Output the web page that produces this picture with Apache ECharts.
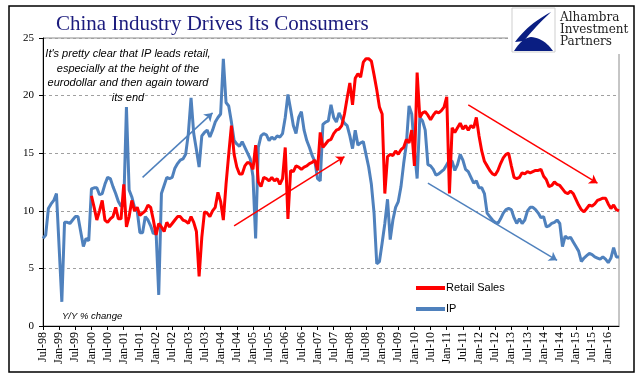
<!DOCTYPE html>
<html><head><meta charset="utf-8">
<script src="https://cdn.jsdelivr.net/npm/echarts@6/dist/echarts.min.js"></script>
<style>html,body{margin:0;padding:0;background:#fff}#c{width:641px;height:388px}</style>
</head><body><div id="c"></div><script>
// ---- data ----
const monthNames = ['Jan','Feb','Mar','Apr','May','Jun','Jul','Aug','Sep','Oct','Nov','Dec'];
const startYear = 1998, startMonthIdx = 6, monthCount = 215; // Jul-98 .. May-16
const categories = [];
for (let i = 0; i < monthCount; i++) {
  const t = startMonthIdx + i;
  categories.push(monthNames[t % 12] + '-' + String((startYear + Math.floor(t / 12)) % 100).padStart(2, '0'));
}
const ipValues = [
  7.6, 7.9, 10.2, 10.6, 10.9, 11.5, 6.8, 2.1, 9.0, 9.0,
  8.9, 9.2, 9.5, 9.5, 8.2, 6.9, 7.6, 7.4, 11.9, 12.0,
  12.0, 11.4, 11.5, 12.3, 12.9, 12.8, 12.1, 11.5, 10.8, 10.4,
  10.5, 19.0, 11.8, 11.2, 10.3, 10.0, 8.1, 8.1, 9.5, 9.2,
  8.7, 8.0, 8.2, 2.7, 11.5, 12.2, 12.9, 12.8, 12.9, 13.7,
  14.1, 14.4, 14.5, 14.9, 16.7, 19.8, 16.7, 15.3, 13.8, 16.5,
  16.8, 17.0, 16.4, 17.0, 17.7, 18.1, 18.4, 23.2, 19.4, 19.1,
  17.7, 16.1, 15.8, 15.6, 16.0, 15.5, 15.0, 14.5, 13.0, 7.6,
  15.5, 16.5, 16.7, 16.6, 16.1, 16.4, 16.2, 16.5, 16.4, 16.7,
  18.1, 20.1, 18.8, 17.4, 16.7, 18.1, 18.6, 17.0, 16.1, 15.5,
  14.8, 14.3, 12.8, 12.6, 17.5, 17.7, 17.8, 19.2, 18.1, 17.7,
  18.5, 18.0, 17.6, 17.4, 16.5, 15.4, 17.0, 15.7, 15.9, 16.0,
  14.9, 13.8, 12.3, 9.8, 5.4, 5.6, 7.2, 8.9, 11.0, 7.5,
  9.2, 10.3, 10.8, 12.1, 14.1, 15.8, 19.1, 18.4, 15.3, 12.8,
  18.1, 17.8, 17.0, 14.0, 13.9, 13.6, 13.1, 13.2, 13.4, 13.6,
  14.0, 14.4, 14.3, 13.5, 14.0, 14.9, 14.4, 13.6, 13.4, 12.9,
  12.4, 12.6, 12.0, 12.0, 11.5, 9.8, 9.5, 9.2, 9.0, 8.9,
  9.3, 9.8, 10.1, 10.2, 10.1, 9.4, 8.9, 9.3, 8.9, 9.2,
  10.0, 10.3, 10.3, 10.1, 9.8, 9.4, 9.5, 8.6, 8.7, 8.9,
  9.0, 9.2, 8.9, 6.9, 7.8, 7.6, 7.7, 7.3, 6.9, 6.5,
  5.6, 5.9, 6.1, 6.3, 6.2, 6.0, 5.9, 5.8, 6.0, 5.8,
  5.5, 5.9, 6.8, 6.0, 6.0
];
const retailStartIndex = 18; // Jan-00
const retailValues = [
  11.3, 10.3, 9.2, 10.0, 10.9, 9.2, 9.0, 9.3, 9.5, 10.3, 9.3, 9.3,
  12.3, 8.6, 9.5, 10.9, 10.0, 10.3, 9.6, 9.8, 10.0, 10.5, 10.3, 9.2,
  7.9, 8.9, 8.6, 8.2, 9.0, 8.6, 8.9, 9.2, 9.5, 9.5, 9.2, 9.1,
  8.9, 9.5, 9.0, 8.2, 4.3, 7.7, 9.9, 9.8, 9.5, 10.0, 10.3, 11.6,
  10.8, 9.2, 12.3, 14.9, 17.4, 14.9, 13.8, 13.2, 13.2, 13.9, 14.2, 14.1,
  13.6, 15.7, 12.5, 12.1, 12.9, 12.8, 12.6, 12.9, 12.6, 12.8, 12.3, 12.8,
  15.5, 9.3, 13.5, 13.4, 13.9, 13.8, 13.6, 13.8, 13.9, 14.1, 14.2, 14.4,
  13.5, 16.8, 15.5, 15.8, 16.1, 16.2, 16.7, 17.0, 17.1, 17.4, 18.4, 19.8,
  21.1, 19.2, 21.5, 21.9, 21.6, 22.9, 23.2, 23.2, 23.0, 21.8, 20.5, 19.0,
  18.4, 11.5, 14.7, 14.9, 14.8, 15.2, 14.9, 15.3, 15.5, 16.2, 15.9, 17.0,
  13.9, 22.0, 18.1, 18.5, 18.6, 18.3, 17.9, 18.3, 18.6, 18.5, 18.7, 19.0,
  19.9, 11.5, 17.2, 16.8, 17.2, 17.6, 17.1, 17.4, 17.0, 17.4, 17.2, 18.1,
  16.5, 15.2, 14.3, 13.9, 13.5, 13.2, 13.1, 13.5, 14.1, 14.6, 14.9, 15.0,
  13.9, 12.9, 12.8, 12.9, 13.3, 13.2, 13.4, 13.3, 13.4, 13.5, 13.5, 13.6,
  13.0, 12.7, 12.1, 12.2, 12.5, 12.3, 12.2, 11.9, 11.6, 11.5, 11.7, 11.5,
  11.0, 10.5, 10.1, 9.9, 10.2, 10.5, 10.4, 10.6, 10.9, 11.0, 11.1, 11.1,
  10.6, 10.2, 10.5, 10.1, 10.0
];
const retail = new Array(retailStartIndex).fill(null).concat(retailValues);
const yTicks = { min: 0, max: 25, interval: 5 };
// annotation arrows: [startIndex, startValue, endIndex, endValue]
const ipArrows = [[37, 12.9, 63, 18.5], [143, 12.4, 191, 5.7]];
const retailArrows = [[71, 8.7, 112, 14.7], [158, 19.2, 206, 12.4]];
const noteLines = ["It's pretty clear that IP leads retail,", 'especially at the height of the', 'eurodollar and then again toward', 'its end'];

const RED = '#ff0000', BLUE = '#4f81bd';
const arrowData = a => a.map(r => [{ coord: [r[0], r[1]] }, { coord: [r[2], r[3]] }]);

// logo helper: sample quadratic bezier segments into polygon points
function quadPts(segs) {
  const pts = [];
  segs.forEach(s => {
    const [p0, c, p1] = s;
    for (let i = 0; i <= 12; i++) {
      const t = i / 12, u = 1 - t;
      pts.push([u * u * p0[0] + 2 * u * t * c[0] + t * t * p1[0], u * u * p0[1] + 2 * u * t * c[1] + t * t * p1[1]]);
    }
  });
  return pts;
}
const logoTop = quadPts([[[515, 42], [528, 24], [551, 12]], [[551, 12], [534, 28], [524, 41]]]);
const logoBottom = quadPts([[[514, 51], [522, 38], [531, 37]], [[531, 37], [544, 38], [553, 51]]]);

const chart = echarts.init(document.getElementById('c'), null, { renderer: 'canvas' });
chart.setOption({
  animation: false,
  backgroundColor: '#fff',
  title: {
    text: 'China Industry Drives Its Consumers', left: 51, top: 9,
    textStyle: { fontFamily: 'Liberation Serif', fontSize: 21, fontWeight: 'normal', color: '#1b1b7d' }
  },
  grid: { left: 43, right: 22, top: 38, bottom: 62, show: true, borderColor: '#8c8c8c', borderWidth: 1, backgroundColor: 'transparent' },
  legend: {
    data: ['Retail Sales', 'IP'], orient: 'vertical', left: 411, top: 276,
    icon: 'rect', itemWidth: 29, itemHeight: 4, itemGap: 7,
    textStyle: { fontFamily: 'Liberation Sans', fontSize: 11, color: '#000', lineHeight: 14, padding: [0, 0, 0, -4] }
  },
  xAxis: {
    type: 'category', data: categories, boundaryGap: false,
    axisLine: { lineStyle: { color: '#000', width: 1 } },
    axisTick: { interval: 5, length: 4, lineStyle: { color: '#000' } },
    axisLabel: { interval: 5, rotate: 90, margin: 6, fontFamily: 'Liberation Serif', fontSize: 12, color: '#000' },
    splitLine: { show: false }
  },
  yAxis: {
    type: 'value', min: yTicks.min, max: yTicks.max, interval: yTicks.interval,
    axisLine: { show: true, lineStyle: { color: '#000', width: 1 } },
    axisTick: { show: true, length: 4, lineStyle: { color: '#000' } },
    axisLabel: { margin: 9, fontFamily: 'Liberation Serif', fontSize: 11, color: '#000' },
    splitLine: { lineStyle: { color: '#a0a0a0', type: [3, 3], width: 1 } }
  },
  series: [
    {
      name: 'IP', type: 'line', data: ipValues, symbol: 'none', z: 2,
      lineStyle: { color: BLUE, width: 3 }, itemStyle: { color: BLUE },
      markLine: { silent: true, symbol: ['none', 'arrow'], symbolSize: 8, label: { show: false },
        lineStyle: { color: BLUE, width: 1.5, type: 'solid' }, data: arrowData(ipArrows) }
    },
    {
      name: 'Retail Sales', type: 'line', data: retail, symbol: 'none', z: 3,
      lineStyle: { color: RED, width: 3 }, itemStyle: { color: RED },
      markLine: { silent: true, symbol: ['none', 'arrow'], symbolSize: 8, label: { show: false },
        lineStyle: { color: RED, width: 1.5, type: 'solid' }, data: arrowData(retailArrows) }
    }
  ],
  graphic: [
    { type: 'text', x: 128, y: 47, z: 10, style: { text: noteLines.join('\n'), font: 'italic 11px "Liberation Sans"', fill: '#000', textAlign: 'center', lineHeight: 14.5 } },
    { type: 'text', x: 62, y: 311, z: 10, style: { text: 'Y/Y % change', font: 'italic 9.5px "Liberation Sans"', fill: '#000' } },
    { type: 'rect', z: 20, shape: { x: 508, y: 0, width: 133, height: 54 }, style: { fill: '#fff' } },
    { type: 'rect', z: 21, shape: { x: 512, y: 8, width: 43, height: 44 }, style: { fill: '#fff', stroke: '#cfcfcf', lineWidth: 1 } },
    { type: 'polygon', z: 22, shape: { points: logoTop }, style: { fill: '#0a1e82' } },
    { type: 'polygon', z: 22, shape: { points: logoBottom }, style: { fill: '#0a1e82' } },
    { type: 'text', x: 560, y: 12, z: 22, style: { text: 'Alhambra\nInvestment\nPartners', font: '12px "DejaVu Serif"', fill: '#222', lineHeight: 12 } },
    { type: 'rect', z: 30, shape: { x: 9, y: 6, width: 625, height: 366 }, style: { fill: 'none', stroke: '#000', lineWidth: 1.5 } }
  ]
});
</script></body></html>
